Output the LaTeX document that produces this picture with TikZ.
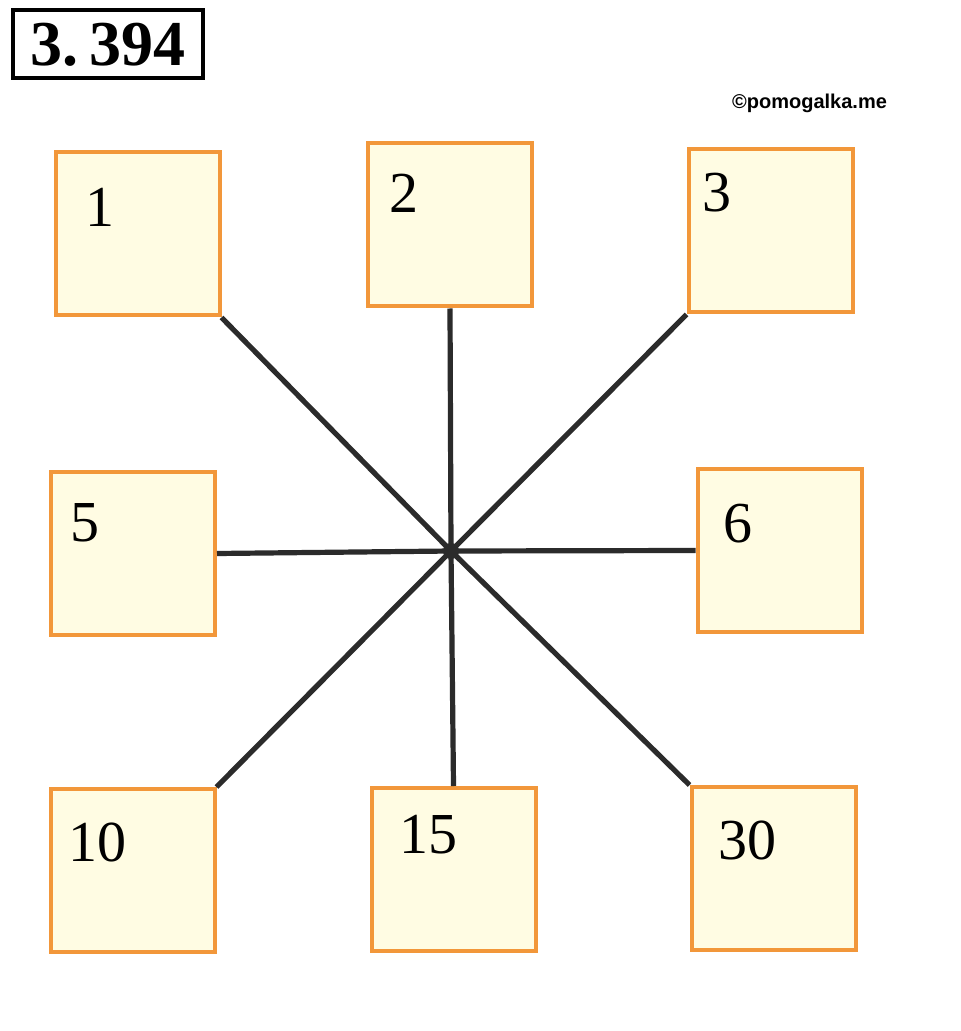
\documentclass[tikz,border=0pt]{standalone}
\usepackage{fontspec}
\setmainfont{Liberation Serif}
\newfontfamily\wmfont{Liberation Sans}
\begin{document}
\begin{tikzpicture}[x=0.5pt,y=-0.5pt,
  cell/.style={draw=boxorange,fill=boxfill,line width=2pt,minimum width=82pt,minimum height=81.5pt,inner sep=0pt},
  num/.style={font=\fontsize{29}{30}\selectfont,inner sep=0pt},
  spoke/.style={draw=spokegray,line width=2.6pt}]
\definecolor{boxorange}{HTML}{F2973A}
\definecolor{boxfill}{HTML}{FFFCE3}
\definecolor{spokegray}{HTML}{2B2B2B}
\useasboundingbox[fill=white] (0,0) rectangle (960,1031);
% title
\node[draw=black,line width=2pt,minimum width=95pt,minimum height=34pt,inner sep=0pt,
  font=\fontsize{32}{34}\selectfont\bfseries] (title) at (108,44.5) {3.\,394};
\node[font=\wmfont\bfseries\fontsize{10}{12}\selectfont,inner sep=0pt] (wm) at (809.5,103) {©pomogalka.me};
% boxes
\node[cell] (b1) at (137.5,234) {};
\node[cell] (b2) at (450,225) {};
\node[cell] (b3) at (770.5,231) {};
\node[cell] (b5) at (133,553.5) {};
\node[cell] (b6) at (779.5,550.5) {};
\node[cell] (b10) at (132.5,870.5) {};
\node[cell] (b15) at (453.5,869.5) {};
\node[cell] (b30) at (773.5,868.5) {};
% labels
\node[num] (l1) at (100,207) {1};
\node[num] (l2) at (404,193) {2};
\node[num] (l3) at (717,193) {3};
\node[num] (l5) at (85,523) {5};
\node[num] (l6) at (738,524) {6};
\node[num] (l10) at (97,842) {10};
\node[num] (l15) at (428,835) {15};
\node[num] (l30) at (747,840) {30};
% spokes
\coordinate (c) at (451,551);
\draw[spoke] (b1.south east) -- (c);
\draw[spoke] (b2.south) -- (c);
\draw[spoke] (b3.south west) -- (c);
\draw[spoke] (b5.east) -- (c);
\draw[spoke] (b6.west) -- (c);
\draw[spoke] (b10.north east) -- (c);
\draw[spoke] (b15.north) -- (c);
\draw[spoke] (b30.north west) -- (c);
\fill[spokegray] (c) circle (4pt);
\end{tikzpicture}
\end{document}
